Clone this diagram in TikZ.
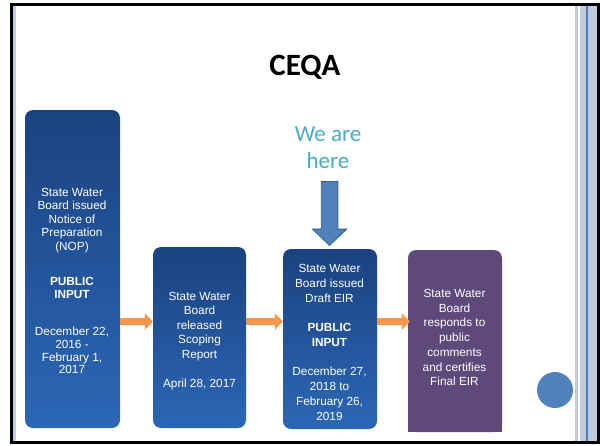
\documentclass[tikz,border=0pt]{standalone}
\usepackage{fontspec}
\setmainfont{Liberation Sans}
\newfontfamily\calib{Carlito}
\usetikzlibrary{arrows.meta,calc}
\definecolor{band}{HTML}{C0CBE0}
\definecolor{bandline}{HTML}{4A7EBB}
\definecolor{boxtop}{HTML}{1B4280}
\definecolor{boxbot}{HTML}{2B67B6}
\definecolor{orng}{HTML}{F79646}
\definecolor{ablue}{HTML}{4F81BD}
\definecolor{ablueline}{HTML}{385D8A}
\definecolor{purp}{HTML}{5F497A}
\definecolor{herec}{HTML}{4BACC6}
\tikzset{
  bluebox/.style={rectangle, rounded corners=8pt, top color=boxtop, bottom color=boxbot, inner sep=0},
  purpbox/.style={rectangle, rounded corners=8pt, fill=purp, inner sep=0},
  ln/.style={text=white, font=\fontsize{11.8}{13}\selectfont, anchor=base, inner sep=0},
  lnb/.style={ln, font=\bfseries\fontsize{11.8}{13}\selectfont},
  oarrow/.style={draw=orng, line width=7pt, -{Triangle[length=8pt,width=16pt]}},
  downarrow/.style={fill=ablue, draw=ablueline, line width=0.8pt},
}
\begin{document}
\begin{tikzpicture}[x=1pt,y=-1pt]
\useasboundingbox (0,0) rectangle (600,445);
\fill[white] (0,0) rectangle (600,445);
% side bands
\fill[band] (13,6) rectangle (15.5,441);
\fill[band] (575,6) rectangle (577.5,441);
\fill[band] (580,6) rectangle (597,441);
\fill[bandline] (586,6) rectangle (587.5,441);
% frame
\draw[line width=3pt] (11.5,4.5) rectangle (598.5,442.5);
% title
\node[font=\calib\bfseries\fontsize{31}{36}\selectfont, anchor=base, inner sep=0] (title) at (305,75.7) {CEQA};
% we are here
\node[font=\calib\fontsize{23}{26}\selectfont, text=herec, anchor=base, inner sep=0] (we1) at (328,141.7) {We are};
\node[font=\calib\fontsize{23}{26}\selectfont, text=herec, anchor=base, inner sep=0] (we2) at (328,168.3) {here};
% boxes
\node[bluebox, minimum width=95pt, minimum height=318pt] (b1) at (72.5,269) {};
\node[bluebox, minimum width=93pt, minimum height=181pt] (b2) at (199.5,337.5) {};
\node[bluebox, minimum width=94pt, minimum height=180pt] (b3) at (330,339) {};
\node[purpbox, minimum width=94pt, minimum height=182pt] (b4) at (455,341) {};
\fill[purp] (b4.south west) rectangle ($(b4.south east)+(0,-10)$);
% box 1 text
\foreach \yy/\lbl [count=\i] in {196/State Water,209.5/Board issued,223/Notice of,236.5/Preparation,250/(NOP),335/{December 22,},348/2016 -,361/{February 1,},373.5/2017}
  \node[ln] (b1t\i) at (72,\yy) {\lbl};
\node[lnb] (b1p) at (72,285) {PUBLIC};
\node[lnb] (b1q) at (72,298.3) {INPUT};
% box 2 text
\foreach \yy/\lbl [count=\i] in {300/State Water,314.5/Board,329/released,343.5/Scoping,358/Report,387.5/{April 28, 2017}}
  \node[ln] (b2t\i) at (199.5,\yy) {\lbl};
% box 3 text
\foreach \yy/\lbl [count=\i] in {272.7/State Water,287.5/Board issued,302/Draft EIR,375.7/{December 27,},390.5/2018 to,405.5/{February 26,},420/2019}
  \node[ln] (b3t\i) at (329.5,\yy) {\lbl};
\node[lnb] (b3p) at (329.5,331.7) {PUBLIC};
\node[lnb] (b3q) at (329.5,346) {INPUT};
% box 4 text
\foreach \yy/\lbl [count=\i] in {297.5/State Water,312/Board,326.5/responds to,341.5/public,356.5/comments,371/and certifies,385.7/Final EIR}
  \node[ln] (b4t\i) at (454.5,\yy) {\lbl};
% orange arrows
\coordinate (ay) at (0,321.5);
\draw[oarrow] (b1.east |- ay) -- (b2.west |- ay);
\draw[oarrow] (b2.east |- ay) -- (b3.west |- ay);
\draw[oarrow] (b3.east |- ay) -- ($(b4.west |- ay)+(2,0)$);
% down arrow
\coordinate (tip) at ($(b3.north)+(-0.5,-3.3)$);
\draw[downarrow] (tip) -- ++(-17,-16.4) -- ++(8.8,0) -- ++(0,-47.6) -- ++(16.6,0) -- ++(0,47.6) -- ++(8.8,0) -- cycle;
% circle
\node[circle, fill=ablue, minimum size=36pt, inner sep=0] (dot) at (555,390) {};
\end{tikzpicture}
\end{document}
